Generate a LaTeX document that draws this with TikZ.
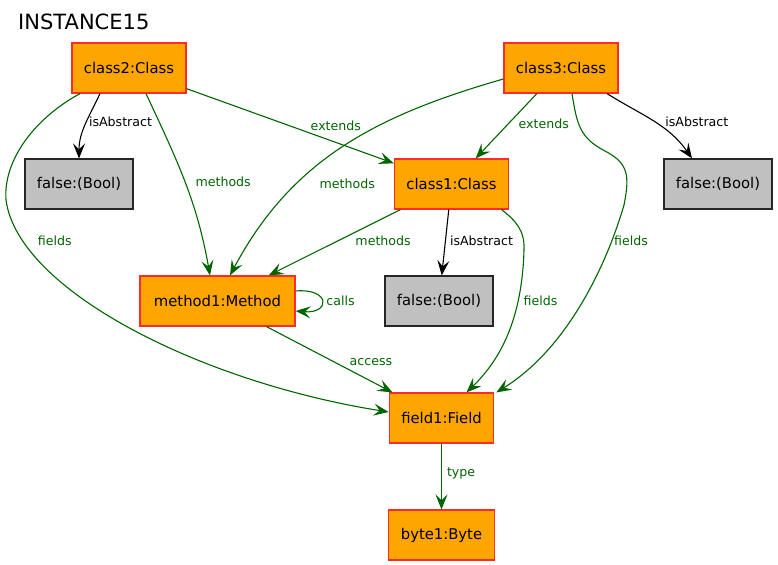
\documentclass[tikz,border=0pt]{standalone}
\usepackage{fontspec}
\setmainfont{DejaVu Sans}
\usetikzlibrary{positioning,arrows.meta}

\definecolor{objorange}{HTML}{FFA500}
\definecolor{objred}{HTML}{FF2A2A}
\definecolor{valgray}{HTML}{C0C0C0}
\definecolor{refgreen}{HTML}{006400}

\tikzset{
  obj/.style={draw=objred, fill=objorange, line width=1.2bp,
    minimum height=50bp, inner xsep=12bp, font=\fontsize{14.8bp}{17bp}\selectfont},
  val/.style={obj, draw=black!85, fill=valgray},
  ref/.style={draw=refgreen, line width=1.1bp,
    -{Stealth[length=15bp, width=12bp, inset=6bp]}},
  attr/.style={ref, draw=black},
  lbl/.style={font=\fontsize{12.6bp}{14bp}\selectfont, text=refgreen, inner sep=2bp},
  albl/.style={lbl, text=black}
}

\begin{document}
\begin{tikzpicture}[x=1bp, y=1bp, on grid]
  \useasboundingbox (0,0) rectangle (778,-565);

  \node[anchor=west, inner sep=0, font=\fontsize{21bp}{25bp}\selectfont] (title) at (18,-22) {INSTANCE15};

  \node[obj, minimum width=114bp] (c2) at (129,-68) {class2:Class};
  \node[obj, minimum width=114bp, right = 432bp of c2] (c3) {class3:Class};
  \node[val, minimum width=108bp, below left = 116bp and 50bp of c2] (bf2) {false:(Bool)};
  \node[obj, minimum width=113bp, below left = 116bp and 109.5bp of c3] (c1) {class1:Class};
  \node[val, minimum width=108bp, below right = 116bp and 157bp of c3] (bf3) {false:(Bool)};
  \node[obj, minimum width=155bp, below left = 117bp and 234bp of c1] (m1) {method1:Method};
  \node[val, minimum width=108bp, below left = 117bp and 12.5bp of c1] (bf1) {false:(Bool)};
  \node[obj, minimum width=103bp, below right = 117bp and 2.5bp of bf1] (f1) {field1:Field};
  \node[obj, minimum width=105bp, below = 117bp of f1] (b1) {byte1:Byte};

  % class2
  \draw[attr] ([xshift=-29bp]c2.south) to[out=-115, in=90] node[albl, right, pos=0.45] {isAbstract} (bf2.north);
  \draw[ref] (c2) -- node[lbl, above=9bp, pos=0.72] {extends} (c1);
  \draw[ref] ([xshift=17bp]c2.south) to[out=-65, in=100] node[lbl, right=8bp, pos=0.5] {methods} ([xshift=-7.5bp]m1.north);
  \draw[ref] ([xshift=-49bp]c2.south) .. controls (35,-118) and (3,-160) .. (6,-200)
    .. controls (18,-290) and (200,-382) .. node[lbl, pos=0.15, right=13bp] {fields} ([yshift=6bp]f1.west);

  % class3
  \draw[ref] ([yshift=-11bp]c3.west) to[out=196, in=62] node[lbl, pos=0.68, right=20bp] {methods} ([xshift=12.5bp]m1.north);
  \draw[ref] (c3) -- node[lbl, right=8bp, pos=0.47] {extends} (c1);
  \draw[ref] ([xshift=11bp]c3.south) .. controls (577,-125) and (580,-138) .. (605,-151)
    .. controls (628,-163) and (630,-175) .. (624,-205)
    .. controls (605,-270) and (565,-350) .. node[lbl, pos=0.18, right] {fields} ([xshift=2bp]f1.north east);
  \draw[attr] ([xshift=46bp]c3.south) to[out=-32, in=125] node[albl, pos=0.5, right=9bp] {isAbstract} ([xshift=-26bp]bf3.north);

  % class1
  \draw[ref] (c1) -- node[lbl, pos=0.36, below right] {methods} (m1);
  \draw[attr] (c1) -- node[albl, right=2bp, pos=0.47] {isAbstract} (bf1);
  \draw[ref] ([xshift=50bp]c1.south) .. controls (515,-220) and (525,-230) .. (524,-250)
    .. controls (522,-320) and (500,-360) .. node[lbl, pos=0.27, right=3bp] {fields} ([xshift=25bp]f1.north);

  % method1, field1
  \draw[ref] ([yshift=10bp]m1.east) .. controls +(35,3) and +(35,-3) .. node[lbl, right=2bp] {calls} ([yshift=-10bp]m1.east);
  \draw[ref] (m1) -- node[lbl, above right, pos=0.64] {access} (f1);
  \draw[ref] (f1) -- node[lbl, right=3bp, pos=0.45] {type} (b1);

\end{tikzpicture}
\end{document}
